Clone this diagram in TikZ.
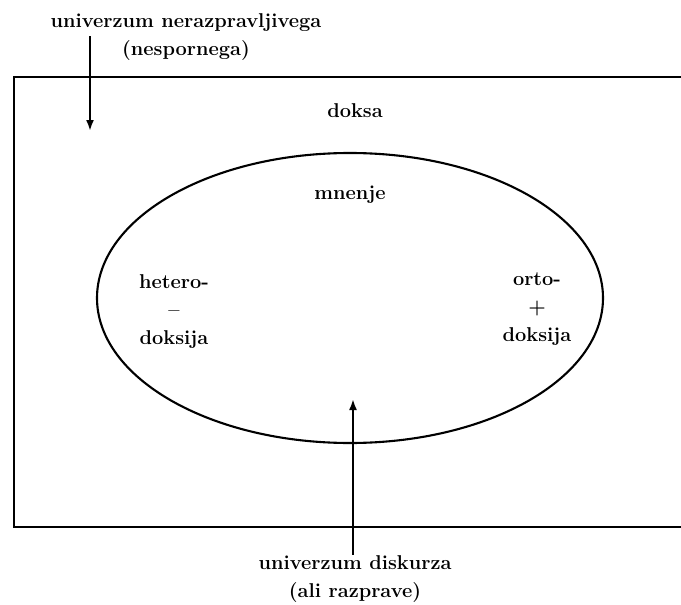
\documentclass[tikz,border=0pt]{standalone}
\usepackage{tikz}
\usetikzlibrary{positioning, arrows.meta}

\tikzset{
  lbl/.style={inner sep=0.75pt, align=center, font=\fontsize{20}{28}\selectfont\bfseries},
  frame/.style={line width=2.1pt},
  pointer/.style={line width=2.1pt, -{Latex[length=11pt,width=8pt]}}
}

\begin{document}
\begin{tikzpicture}[x=1pt,y=1pt,yscale=-1,xscale=1]
\useasboundingbox (0,0) rectangle (681,605);
%Shape: Rectangle (open at right)
\draw [frame] (681,77) -- (14,77) -- (14,527) -- (681,527) ;
%Shape: Ellipse
\draw [frame] (350,298) ellipse [x radius=253, y radius=145] ;

% Text Node
\node [lbl] (nerazp) at (186,37) {univerzum nerazpravljivega\\(nespornega)};
% Text Node
\node [lbl] (doksa) at (355,111) {doksa};
% Text Node
\node [lbl] (mnenje) at (350,195) {mnenje};
% Text Node
\node [lbl] (hetero) at (174,312) {hetero-\\--\\doksija};
% Text Node
\node [lbl] (orto) at (537,309) {orto-\\+\\doksija};
% Text Node
\node [lbl] (diskurz) at (355,579) {univerzum diskurza\\(ali razprave)};

\coordinate (nerazptip) at (90,131);
\coordinate (diskurztip) at (353,399);
%Straight Lines
\draw [pointer] (nerazp.south -| nerazptip) ++(0,-25) -- (nerazptip) ;
%Straight Lines
\draw [pointer] (diskurz.north -| diskurztip) -- (diskurztip) ;
\end{tikzpicture}
\end{document}
